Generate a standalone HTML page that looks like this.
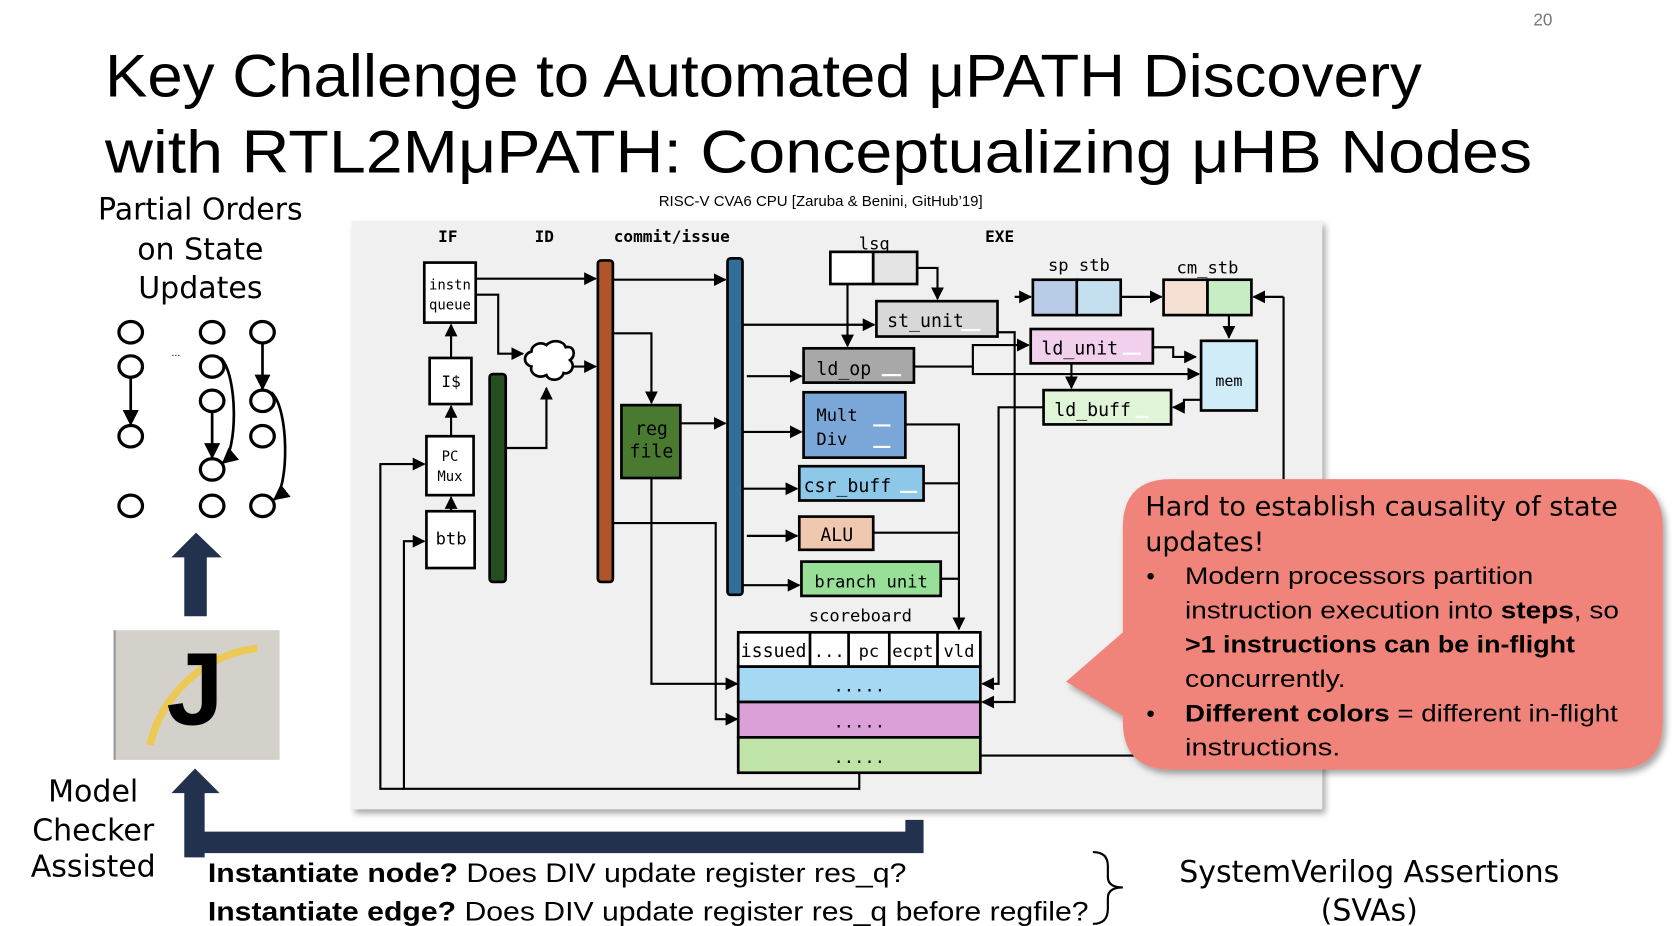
<!DOCTYPE html>
<html><head><meta charset="utf-8"><style>
html,body{margin:0;padding:0;background:#fff;width:1680px;height:926px;overflow:hidden}
svg{display:block}
.m{font-family:"DejaVu Sans Mono","Liberation Mono",monospace;fill:#000}
.s{font-family:"Liberation Sans",sans-serif}
.c{font-family:"DejaVu Sans","Liberation Sans",sans-serif}
.ln{stroke:#000;stroke-width:2;fill:none}
.bx{stroke:#000;stroke-width:2.5}
</style></head><body>
<svg width="1680" height="926" viewBox="0 0 1568 864" preserveAspectRatio="none" xmlns="http://www.w3.org/2000/svg">
<defs>
<marker id="a" viewBox="0 0 10 10" refX="9" refY="5" markerWidth="6" markerHeight="6" orient="auto"><path d="M0,0L10,5L0,10z" fill="#000"/></marker>
<filter id="sh" x="-5%" y="-5%" width="110%" height="110%"><feDropShadow dx="3" dy="4" stdDeviation="3" flood-opacity="0.35"/></filter>
</defs>
<rect width="1568" height="864" fill="#fff"/>
<text x="1440" y="24" class="s" font-size="16" fill="#777" text-anchor="middle">20</text>
<text x="98" y="90" class="s" font-size="56" fill="#000" textLength="1229" lengthAdjust="spacingAndGlyphs">Key Challenge to Automated μPATH Discovery</text>
<text x="98" y="161" class="s" font-size="56" fill="#000" textLength="1332" lengthAdjust="spacingAndGlyphs">with RTL2MμPATH: Conceptualizing μHB Nodes</text>

<!-- left -->
<g class="c" font-size="28" text-anchor="middle">
<text x="187" y="205">Partial Orders</text><text x="187" y="242">on State</text><text x="187" y="278">Updates</text>
<text x="87" y="748">Model</text><text x="87" y="784">Checker</text><text x="87" y="818">Assisted</text>
</g>
<g fill="none" stroke="#000" stroke-width="3">
<ellipse cx="122" cy="310" rx="11" ry="10"/><ellipse cx="122" cy="342" rx="11" ry="10"/><ellipse cx="122" cy="407" rx="11" ry="10"/><ellipse cx="122" cy="472" rx="11" ry="10"/>
<ellipse cx="198" cy="310" rx="11" ry="10"/><ellipse cx="198" cy="342" rx="11" ry="10"/><ellipse cx="198" cy="374" rx="11" ry="10"/><ellipse cx="198" cy="438" rx="11" ry="10"/><ellipse cx="198" cy="472" rx="11" ry="10"/>
<ellipse cx="245" cy="310" rx="11" ry="10"/><ellipse cx="245" cy="374" rx="11" ry="10"/><ellipse cx="245" cy="407" rx="11" ry="10"/><ellipse cx="245" cy="472" rx="11" ry="10"/>
</g>
<g stroke="#000" stroke-width="2.5" fill="none" marker-end="url(#a)">
<path d="M122 352V396"/><path d="M198 384V427"/><path d="M245 320V363"/>
<path d="M206 334C222 350 222 420 208 432"/><path d="M253 366C270 380 270 455 256 466"/>
</g>
<text x="160" y="332" font-size="10" class="s">...</text>
<path d="M172 575V520H160L183 497L207 520H193V575Z" fill="#22314d"/>
<rect x="106" y="588" width="155" height="121" fill="#d4d1cb"/>
<rect x="106" y="588" width="2" height="121" fill="#999"/>
<path d="M140 695C150 650 190 610 240 605" stroke="#f0c840" stroke-width="7" fill="none" opacity="0.85"/>
<text x="182" y="676" class="s" font-size="96" font-weight="bold" text-anchor="middle">J</text>
<path d="M172 800V740H160L182 717L205 740H191V776H845V765H862V796H191V800Z" fill="#22314d"/>

<!-- diagram -->
<rect x="328" y="206" width="906" height="549" fill="#f0f0f0" filter="url(#sh)"/>
<text x="766" y="192" class="s" font-size="14" text-anchor="middle">RISC-V CVA6 CPU [Zaruba &amp; Benini, GitHub’19]</text>
<g class="m" font-size="15" font-weight="bold" text-anchor="middle">
<text x="418" y="226">IF</text><text x="508" y="226">ID</text><text x="627" y="226">commit/issue</text><text x="933" y="226">EXE</text>
</g>
<!-- connectors -->
<g class="ln">
<path d="M444 260H556" marker-end="url(#a)"/>
<path d="M444 275H465V330H488" marker-end="url(#a)"/>
<path d="M532 342H556" marker-end="url(#a)"/>
<path d="M472 418H510V362" marker-end="url(#a)"/>
<path d="M421 334V303" marker-end="url(#a)"/>
<path d="M421 407V379" marker-end="url(#a)"/>
<path d="M421 477V464" marker-end="url(#a)"/>
<path d="M572 261H677" marker-end="url(#a)"/>
<path d="M572 311H608V376" marker-end="url(#a)"/>
<path d="M635 395H677" marker-end="url(#a)"/>
<path d="M572 488H668V671H688" marker-end="url(#a)"/>
<path d="M608 446V638H688" marker-end="url(#a)"/>
<path d="M693 303H816" marker-end="url(#a)"/>
<path d="M697 351H748" marker-end="url(#a)"/>
<path d="M693 403H748" marker-end="url(#a)"/>
<path d="M693 456H744" marker-end="url(#a)"/>
<path d="M697 500H744" marker-end="url(#a)"/>
<path d="M693 546H746" marker-end="url(#a)"/>
<path d="M791 265V323" marker-end="url(#a)"/>
<path d="M856 250H875V279" marker-end="url(#a)"/>
<path d="M845 396H895V587" marker-end="url(#a)"/>
<path d="M862 451H895M815 497H895M878 540H895"/>
<path d="M931 310H947V655H917" marker-end="url(#a)"/>
<path d="M947 277H962" marker-end="url(#a)"/>
<path d="M1046 277H1084" marker-end="url(#a)"/>
<path d="M1147 294V315" marker-end="url(#a)"/>
<path d="M853 342H908V322H960" marker-end="url(#a)"/>
<path d="M908 342V349H1119" marker-end="url(#a)"/>
<path d="M1076 324H1095V333H1116" marker-end="url(#a)"/>
<path d="M1000 339V362" marker-end="url(#a)"/>
<path d="M1121 373H1105V380H1095" marker-end="url(#a)"/>
<path d="M974 380H932V638H917" marker-end="url(#a)"/>
<path d="M1060 705H915"/>
<path d="M1198 277H1170" marker-end="url(#a)"/>
<path d="M1198 277V447"/>
<path d="M802 721V736H377V505H396" marker-end="url(#a)"/>
<path d="M377 736H355V433H396" marker-end="url(#a)"/>
</g>
<!-- boxes -->
<g class="bx">
<rect x="396" y="245" width="48" height="56" fill="#fff"/>
<rect x="401" y="334" width="39" height="43" fill="#fff"/>
<rect x="398" y="407" width="44" height="55" fill="#fff"/>
<rect x="398" y="477" width="45" height="53" fill="#fff"/>
<rect x="457" y="349" width="15" height="194" rx="3" fill="#244d20"/>
<rect x="558" y="243" width="14" height="300" rx="3" fill="#b0552a"/>
<rect x="580" y="378" width="55" height="68" fill="#4a7a30"/>
<rect x="679" y="241" width="14" height="314" rx="3" fill="#316e9a"/>
<rect x="775" y="235" width="40" height="30" fill="#fff"/><rect x="815" y="235" width="41" height="30" fill="#e4e4e4"/>
<rect x="818" y="281" width="113" height="33" fill="#d8d8d8"/>
<rect x="750" y="325" width="103" height="32" fill="#a8a8a8"/>
<rect x="750" y="366" width="95" height="61" fill="#7ba7d8"/>
<rect x="746" y="435" width="116" height="32" fill="#8ec8e8"/>
<rect x="746" y="482" width="69" height="31" fill="#f0c8b0"/>
<rect x="748" y="524" width="130" height="32" fill="#98e098"/>
<rect x="689" y="590" width="226" height="32" fill="#fff"/>
<rect x="689" y="622" width="226" height="33" fill="#a5d8f2"/>
<rect x="689" y="655" width="226" height="33" fill="#dca0d8"/>
<rect x="689" y="688" width="226" height="33" fill="#c0e4a8"/>
<path d="M756 590V622M792 590V622M830 590V622M875 590V622" fill="none"/>
<rect x="964" y="261" width="41" height="33" fill="#b8cce8"/><rect x="1005" y="261" width="41" height="33" fill="#c4e0f0"/>
<rect x="1086" y="261" width="41" height="33" fill="#f6e0d4"/><rect x="1127" y="261" width="41" height="33" fill="#c8ecc4"/>
<rect x="962" y="307" width="114" height="32" fill="#f0d0ec"/>
<rect x="1121" y="318" width="52" height="65" fill="#d0ecf8"/>
<rect x="974" y="364" width="119" height="32" fill="#e0f4d8"/>
</g>
<path d="M510 322c6-6 16-4 18 2c8-2 10 8 4 12c6 6 0 14-6 12c-2 8-14 8-16 2c-8 4-16-2-14-8c-8-2-8-12 0-14c0-6 8-10 14-6z" fill="#fff" stroke="#000" stroke-width="2.5"/>
<g stroke="#fff" stroke-width="2">
<path d="M897 308H915M823 350H841M815 397H831M815 417H831M840 459H856M1048 330H1065M1060 389H1072"/>
</g>
<g class="m" font-size="16">
<text x="420" y="270" font-size="13" text-anchor="middle">instn</text><text x="420" y="289" font-size="13" text-anchor="middle">queue</text>
<text x="421" y="361" text-anchor="middle" font-size="15">I$</text>
<text x="420" y="430" text-anchor="middle" font-size="13">PC</text><text x="420" y="449" text-anchor="middle" font-size="13">Mux</text>
<text x="421" y="508" text-anchor="middle">btb</text>
<text x="608" y="406" text-anchor="middle" font-size="17">reg</text><text x="608" y="427" text-anchor="middle" font-size="17">file</text>
<text x="816" y="233" text-anchor="middle">lsq</text>
<text x="828" y="305" font-size="17">st_unit</text>
<text x="762" y="350" font-size="17">ld_op</text>
<text x="762" y="393">Mult</text><text x="762" y="415">Div</text>
<text x="750" y="459" font-size="17">csr_buff</text>
<text x="781" y="505" text-anchor="middle" font-size="17">ALU</text>
<text x="813" y="548" text-anchor="middle">branch unit</text>
<text x="803" y="580" text-anchor="middle">scoreboard</text>
<text x="722" y="613" text-anchor="middle" font-size="17">issued</text>
<text x="774" y="613" text-anchor="middle">...</text>
<text x="811" y="613" text-anchor="middle">pc</text>
<text x="852" y="613" text-anchor="middle">ecpt</text>
<text x="895" y="613" text-anchor="middle">vld</text>
<text x="802" y="645" text-anchor="middle">.....</text>
<text x="802" y="679" text-anchor="middle">.....</text>
<text x="802" y="712" text-anchor="middle">.....</text>
<text x="1007" y="253" text-anchor="middle">sp stb</text>
<text x="1127" y="255" text-anchor="middle">cm_stb</text>
<text x="972" y="331" font-size="17">ld_unit</text>
<text x="1147" y="360" text-anchor="middle" font-size="14">mem</text>
<text x="984" y="388" font-size="17">ld_buff</text>
</g>

<!-- callout -->
<path d="M1093 447H1507Q1552 447 1552 492V673Q1552 718 1507 718H1093Q1048 718 1048 673V668L995 636L1048 590V492Q1048 447 1093 447Z" fill="#f0847a" filter="url(#sh)"/>
<g class="c" font-size="25"><text x="1069" y="481" textLength="441" lengthAdjust="spacingAndGlyphs">Hard to establish causality of state</text><text x="1069" y="514">updates!</text></g>
<g class="s" font-size="22.5">
<text x="1070" y="545">•</text><text x="1106" y="545" textLength="325" lengthAdjust="spacingAndGlyphs">Modern processors partition</text>
<text x="1106" y="577" textLength="405" lengthAdjust="spacingAndGlyphs">instruction execution into <tspan font-weight="bold">steps</tspan>, so</text>
<text x="1106" y="609" font-weight="bold" textLength="364" lengthAdjust="spacingAndGlyphs">&gt;1 instructions can be in-flight</text>
<text x="1106" y="641" textLength="150" lengthAdjust="spacingAndGlyphs">concurrently.</text>
<text x="1070" y="673">•</text><text x="1106" y="673" textLength="404" lengthAdjust="spacingAndGlyphs"><tspan font-weight="bold">Different colors</tspan> = different in-flight</text>
<text x="1106" y="705" textLength="145" lengthAdjust="spacingAndGlyphs">instructions.</text>
</g>

<!-- bottom -->
<g class="s" font-size="25">
<text x="194" y="823" textLength="652" lengthAdjust="spacingAndGlyphs"><tspan font-weight="bold">Instantiate node?</tspan> Does DIV update register res_q?</text>
<text x="194" y="859" textLength="822" lengthAdjust="spacingAndGlyphs"><tspan font-weight="bold">Instantiate edge?</tspan> Does DIV update register res_q before regfile?</text>
</g>
<path d="M1020 795Q1034 795 1034 808V818Q1034 828 1048 828Q1034 828 1034 838V848Q1034 862 1020 862" fill="none" stroke="#000" stroke-width="2"/>
<g class="c" font-size="28" text-anchor="middle"><text x="1278" y="823">SystemVerilog Assertions</text><text x="1278" y="859">(SVAs)</text></g>
</svg>
</body></html>
